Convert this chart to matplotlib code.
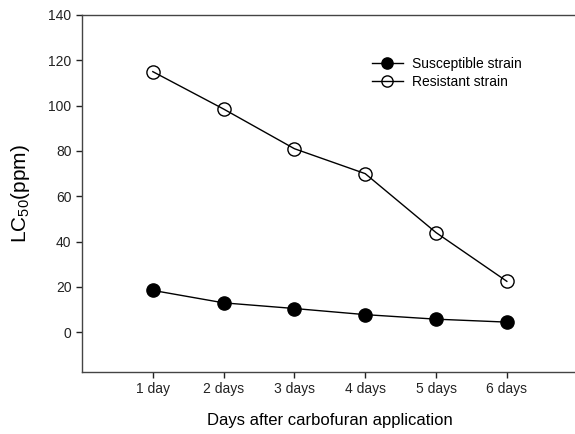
import matplotlib
matplotlib.use('Agg')
import matplotlib.pyplot as plt
import numpy as np

plt.rcParams['font.family'] = ['Liberation Sans', 'DejaVu Sans']
plt.rcParams['mathtext.default'] = 'regular'

# data
days = ['1 day', '2 days', '3 days', '4 days', '5 days', '6 days']
susceptible = [18.5, 13.0, 10.5, 7.8, 5.8, 4.5]
resistant = [115.0, 98.5, 81.0, 70.0, 44.0, 22.5]

x = np.arange(1, len(days) + 1)

fig = plt.figure(figsize=(5.75, 4.34), dpi=100)
ax = fig.add_axes([0.1426, 0.1429, 0.862, 0.8226])

ax.plot(x, susceptible, color='black', lw=1, marker='o', markersize=9.5,
        markerfacecolor='black', label='Susceptible strain')
ax.plot(x, resistant, color='black', lw=1, marker='o', markersize=9.5,
        markerfacecolor='none', markeredgewidth=1, label='Resistant strain')

ax.set_xlim(0, 7)
ax.set_ylim(-17.5, 140)
ax.set_xticks(x)
ax.set_xticklabels(days)
ax.set_yticks(np.arange(0, 141, 20))
ax.tick_params(direction='out', length=4, width=1, labelsize=10, colors='#222222')
ax.spines['right'].set_visible(False)
for s in ['left', 'bottom', 'top']:
    ax.spines[s].set_color('#444444')
    ax.spines[s].set_linewidth(1)

ax.set_xlabel('Days after carbofuran application', fontsize=12, labelpad=12)
ax.set_ylabel('LC$_{50}$(ppm)', fontsize=15, labelpad=12)

ax.legend(loc='upper left', bbox_to_anchor=(0.56, 0.918), frameon=False,
          fontsize=10, handlelength=2.2, handletextpad=0.65, labelspacing=0.3,
          markerscale=0.85)

fig.savefig('out.png', dpi=100)
